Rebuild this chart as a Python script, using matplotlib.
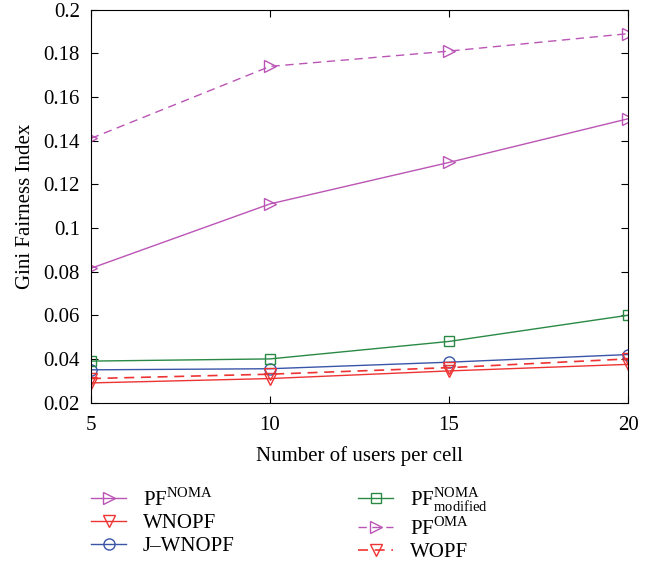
import matplotlib
matplotlib.use("Agg")
import matplotlib.pyplot as plt

plt.rcParams['font.family'] = ['Liberation Serif', 'DejaVu Serif']
plt.rcParams['mathtext.fontset'] = 'custom'
plt.rcParams['mathtext.rm'] = 'Liberation Serif'

# data
users = [5, 10, 15, 20]
pf_noma = [0.0815, 0.111, 0.130, 0.150]
wnopf = [0.029, 0.031, 0.0345, 0.0375]
j_wnopf = [0.035, 0.0355, 0.0385, 0.042]
pf_noma_mod = [0.039, 0.040, 0.048, 0.060]
pf_oma = [0.141, 0.174, 0.181, 0.189]
wopf = [0.031, 0.033, 0.036, 0.040]

magenta = '#bb55b5'
red = '#ee3333'
blue = '#3a55a8'
green = '#2a8a45'

fig = plt.figure(figsize=(6.59, 5.67), dpi=100)
ax = fig.add_axes([0.138, 0.29, 0.815, 0.693])

ms = 8
ax.plot(users, pf_noma, '-', color=magenta, marker='>', ms=ms, mfc='none', lw=1, label=r'PF$^{\mathrm{NOMA}}$')
ax.plot(users, wnopf, '-', color=red, marker='v', ms=ms, mfc='none', lw=1, label='WNOPF')
ax.plot(users, j_wnopf, '-', color=blue, marker='o', ms=ms, mfc='none', lw=1, label='J\u2013WNOPF')
ax.plot(users, pf_noma_mod, '-', color=green, marker='s', ms=7, mfc='none', lw=1, label=r'PF$^{\mathrm{NOMA}}_{\mathrm{modified}}$')
ax.plot(users, pf_oma, '--', color=magenta, marker='>', ms=ms, mfc='none', lw=1, dashes=(6, 4), label=r'PF$^{\mathrm{OMA}}$')
ax.plot(users, wopf, '--', color=red, marker='v', ms=ms, mfc='none', lw=1.2, dashes=(6, 4), label='WOPF')

ax.set_xlim(5, 20)
ax.set_ylim(0.02, 0.2)
ax.set_xticks([5, 10, 15, 20])
ax.set_yticks([0.02, 0.04, 0.06, 0.08, 0.1, 0.12, 0.14, 0.16, 0.18, 0.2])
ax.set_yticklabels(['0.02', '0.04', '0.06', '0.08', '0.1', '0.12', '0.14', '0.16', '0.18', '0.2'])
ax.tick_params(direction='in', top=True, right=True, labelsize=15, length=5)
ax.tick_params(axis='y', pad=8)
ax.tick_params(axis='x', pad=10)
ax.set_xlabel('Number of users per cell', fontsize=15, labelpad=8)
ax.set_ylabel('Gini Fairness Index', fontsize=15, labelpad=6)

ax.legend(loc='upper left', bbox_to_anchor=(0.0, -0.21), ncol=2, frameon=False,
          fontsize=15, columnspacing=5.9, handlelength=1.7, handletextpad=0.8,
          labelspacing=0.15, borderpad=0, borderaxespad=0)

fig.savefig('out.png', dpi=100)
